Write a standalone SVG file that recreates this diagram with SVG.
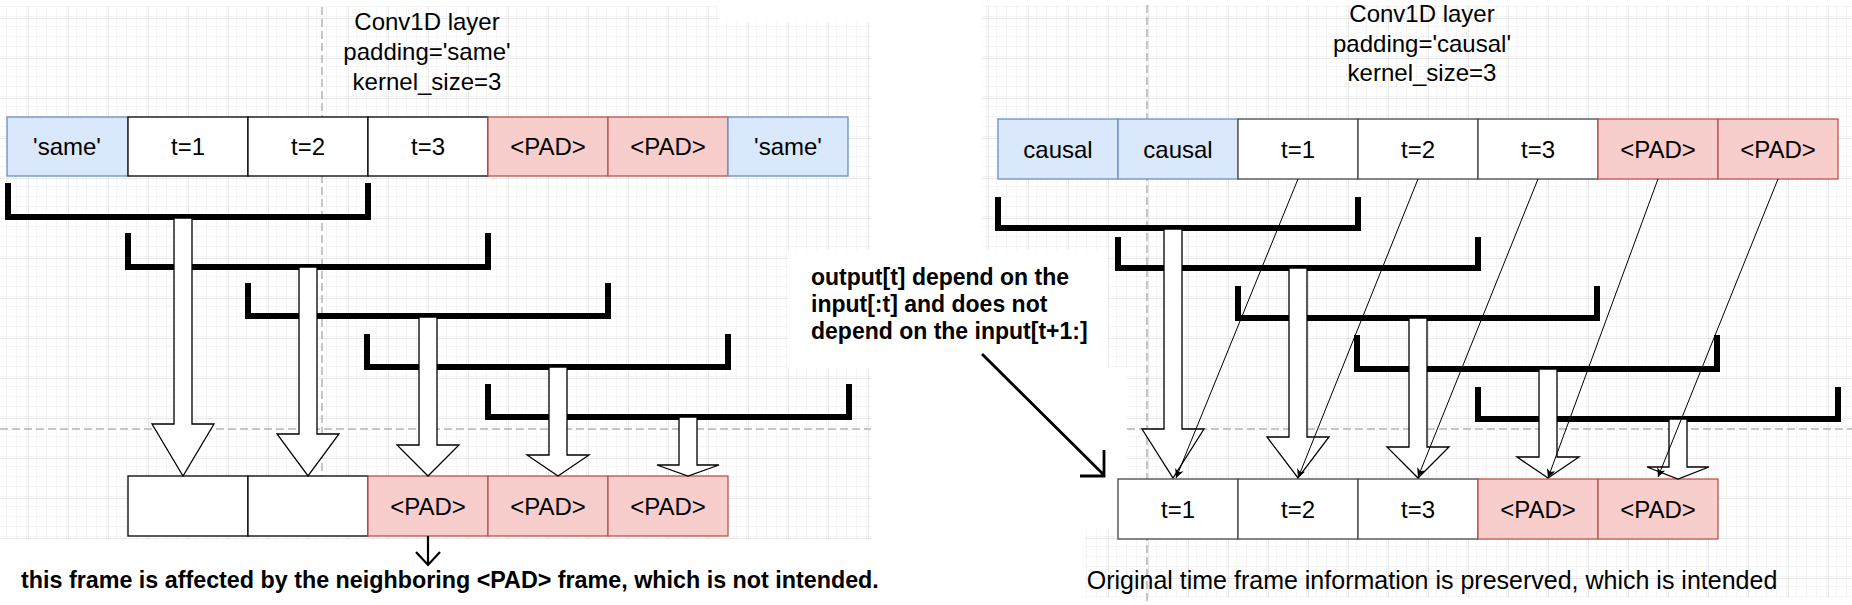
<svg xmlns="http://www.w3.org/2000/svg" width="1852" height="605" viewBox="0 0 1852 605">
<defs>
<pattern id="minor" x="28" y="18" width="10" height="10" patternUnits="userSpaceOnUse">
<path d="M0,0 V10 M0,0 H10" stroke="#ececec" stroke-width="1" fill="none"/>
</pattern>
<pattern id="major" x="28" y="18" width="40" height="40" patternUnits="userSpaceOnUse">
<rect width="40" height="40" fill="url(#minor)"/>
<path d="M0,0 V40 M0,0 H40" stroke="#d3d3d3" stroke-width="1" fill="none"/>
</pattern>
<marker id="classic" viewBox="0 0 10 10" refX="10" refY="5" markerWidth="9" markerHeight="9" markerUnits="userSpaceOnUse" orient="auto">
<path d="M0,0 L10,5 L0,10 L3,5 Z" fill="#000"/>
</marker>
<style>
.t{font-family:"Liberation Sans",Arial,Helvetica,sans-serif;font-size:24px;fill:#000;text-anchor:middle}
.b{font-family:"Liberation Sans",Arial,Helvetica,sans-serif;font-size:23px;font-weight:bold;fill:#000}
.blue{fill:#dae8fc;stroke:#6c8ebf;stroke-width:1.3}
.red{fill:#f8cecc;stroke:#b85450;stroke-width:1.3}
.wht{fill:#fff;stroke:#000;stroke-width:1.3}
.wht2{fill:#fff;stroke:#444;stroke-width:1.3}
.br{fill:none;stroke:#000;stroke-width:6}
.ba{fill:#fff;stroke:#000;stroke-width:1.3;stroke-linejoin:miter}
.thin{fill:none;stroke:#000;stroke-width:1}
.dash{fill:none;stroke:#b4b4b4;stroke-width:1.5;stroke-dasharray:8 4}
</style>
</defs>
<rect width="1852" height="605" fill="#fff"/>
<g id="background">
<rect x="0" y="6" width="871" height="534" fill="url(#major)"/>
<rect x="982" y="5" width="870" height="593" fill="url(#major)"/>
<rect x="718" y="0" width="153" height="22" fill="#fff"/>
<rect x="871" y="368" width="256" height="161" fill="#fff"/>
<rect x="871" y="529" width="214" height="76" fill="#fff"/>
<rect x="788" y="250" width="320" height="118" fill="#fff"/>
<path class="dash" d="M322,7 V476 M0,429 H871 M1147,5 V605 M1127,429 H1852"/>
</g>
<g id="left-title">
<text class="t" x="427" y="30">Conv1D layer</text>
<text class="t" x="427" y="60">padding='same'</text>
<text class="t" x="427" y="90">kernel_size=3</text>
</g>
<g id="left-input">
<rect class="blue" x="7" y="117" width="121" height="59"/>
<rect class="wht" x="128" y="117" width="120" height="59"/>
<rect class="wht" x="248" y="117" width="120" height="59"/>
<rect class="wht" x="368" y="117" width="120" height="59"/>
<rect class="red" x="488" y="117" width="120" height="59"/>
<rect class="red" x="608" y="117" width="120" height="59"/>
<rect class="blue" x="728" y="117" width="120" height="59"/>
<text class="t" x="67" y="155">'same'</text>
<text class="t" x="188" y="155">t=1</text>
<text class="t" x="308" y="155">t=2</text>
<text class="t" x="428" y="155">t=3</text>
<text class="t" x="548" y="155">&lt;PAD&gt;</text>
<text class="t" x="668" y="155">&lt;PAD&gt;</text>
<text class="t" x="788" y="155">'same'</text>
</g>
<g id="left-output">
<rect class="wht" x="128" y="476" width="120" height="60"/>
<rect class="wht" x="248" y="476" width="120" height="60"/>
<rect class="red" x="368" y="476" width="120" height="60"/>
<rect class="red" x="488" y="476" width="120" height="60"/>
<rect class="red" x="608" y="476" width="120" height="60"/>
<text class="t" x="428" y="515">&lt;PAD&gt;</text>
<text class="t" x="548" y="515">&lt;PAD&gt;</text>
<text class="t" x="668" y="515">&lt;PAD&gt;</text>
</g>
<g id="right-title">
<text class="t" x="1422" y="22">Conv1D layer</text>
<text class="t" x="1422" y="52">padding='causal'</text>
<text class="t" x="1422" y="81">kernel_size=3</text>
</g>
<g id="right-input">
<rect class="blue" x="998" y="119" width="120" height="60"/>
<rect class="blue" x="1118" y="119" width="120" height="60"/>
<rect class="wht2" x="1238" y="119" width="120" height="60"/>
<rect class="wht2" x="1358" y="119" width="120" height="60"/>
<rect class="wht2" x="1478" y="119" width="120" height="60"/>
<rect class="red" x="1598" y="119" width="120" height="60"/>
<rect class="red" x="1718" y="119" width="120" height="60"/>
<text class="t" x="1058" y="158">causal</text>
<text class="t" x="1178" y="158">causal</text>
<text class="t" x="1298" y="158">t=1</text>
<text class="t" x="1418" y="158">t=2</text>
<text class="t" x="1538" y="158">t=3</text>
<text class="t" x="1658" y="158">&lt;PAD&gt;</text>
<text class="t" x="1778" y="158">&lt;PAD&gt;</text>
</g>
<g id="right-output">
<rect class="wht2" x="1118" y="479" width="120" height="60"/>
<rect class="wht2" x="1238" y="479" width="120" height="60"/>
<rect class="wht2" x="1358" y="479" width="120" height="60"/>
<rect class="red" x="1478" y="479" width="120" height="60"/>
<rect class="red" x="1598" y="479" width="120" height="60"/>
<text class="t" x="1178" y="518">t=1</text>
<text class="t" x="1298" y="518">t=2</text>
<text class="t" x="1418" y="518">t=3</text>
<text class="t" x="1538" y="518">&lt;PAD&gt;</text>
<text class="t" x="1658" y="518">&lt;PAD&gt;</text>
</g>
<g id="left-kernels">
<path class="br" d="M8,183 V217 H368 V183"/>
<path class="br" d="M128,233 V267 H488 V233"/>
<path class="br" d="M248,283 V316 H608 V283"/>
<path class="br" d="M367,334 V367 H728 V334"/>
<path class="br" d="M488,384 V417 H849 V384"/>
</g>
<g id="right-kernels">
<path class="br" d="M998,197 V228 H1358 V197"/>
<path class="br" d="M1118,237 V268 H1478 V237"/>
<path class="br" d="M1238,286 V318 H1597 V286"/>
<path class="br" d="M1357,335 V369 H1717 V335"/>
<path class="br" d="M1478,387 V419 H1838 V387"/>
</g>
<g id="connectors">
<path class="ba" d="M174,218 H192 V424 H214 L183,476 L152,424 H174 Z"/>
<path class="ba" d="M299,267 H317 V434 H339 L308,476 L277,434 H299 Z"/>
<path class="ba" d="M419,317 H437 V445 H459 L428,476 L397,445 H419 Z"/>
<path class="ba" d="M549,367 H567 V455 H589 L558,476 L527,455 H549 Z"/>
<path class="ba" d="M679,417 H697 V465 H719 L688,476 L657,465 H679 Z"/>
<path class="ba" d="M1164,229 H1182 V429 H1204 L1173,478 L1142,429 H1164 Z"/>
<path class="ba" d="M1289,268 H1307 V437 H1329 L1298,478 L1267,437 H1289 Z"/>
<path class="ba" d="M1409,318 H1427 V447 H1449 L1418,478 L1387,447 H1409 Z"/>
<path class="ba" d="M1539,369 H1557 V457 H1579 L1548,478 L1517,457 H1539 Z"/>
<path class="ba" d="M1669,419 H1687 V467 H1709 L1678,479 L1647,467 H1669 Z"/>
<path class="thin" marker-end="url(#classic)" d="M1298,179 L1176,478"/>
<path class="thin" marker-end="url(#classic)" d="M1418,179 L1298,478"/>
<path class="thin" marker-end="url(#classic)" d="M1538,179 L1418,477"/>
<path class="thin" marker-end="url(#classic)" d="M1658,179 L1548,478"/>
<path class="thin" marker-end="url(#classic)" d="M1778,179 L1658,477"/>
<path fill="none" stroke="#000" stroke-width="2.2" d="M428,536 V565 M416,552 L428,565 L440,552"/>
<path fill="none" stroke="#000" stroke-width="2.8" d="M982,354 L1104,475 M1104,450 V476 H1080"/>
</g>
<g id="notes">
<text class="b" x="811" y="285">output[t] depend on the</text>
<text class="b" x="811" y="312">input[:t] and does not</text>
<text class="b" x="811" y="339">depend on the input[t+1:]</text>
<text class="b" x="21" y="588" style="font-size:23.3px">this frame is affected by the neighboring &lt;PAD&gt; frame, which is not intended.</text>
<text class="t" x="1432" y="589" style="font-size:25px">Original time frame information is preserved, which is intended</text>
</g>
</svg>
